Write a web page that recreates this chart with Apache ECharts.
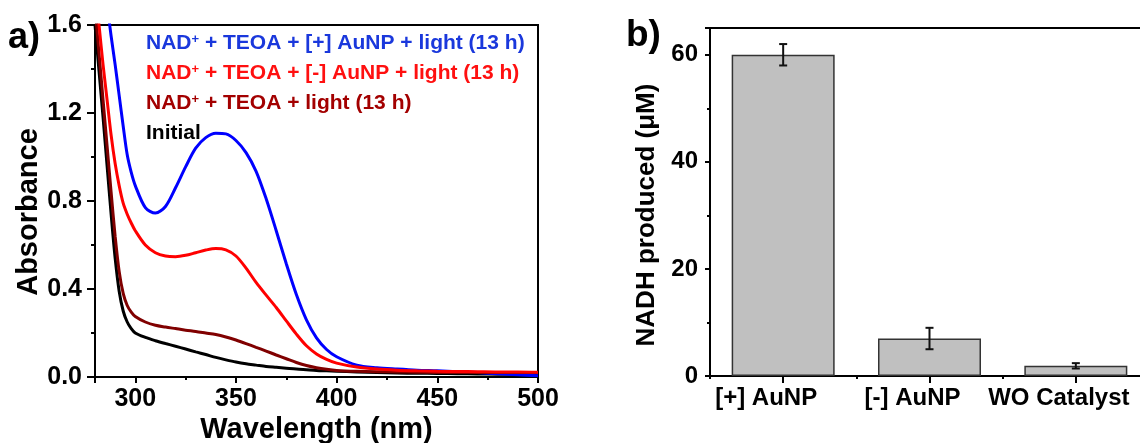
<!DOCTYPE html>
<html>
<head>
<meta charset="utf-8">
<script src="https://cdn.jsdelivr.net/npm/echarts@6/dist/echarts.min.js"></script>
<style>
  html, body { margin: 0; padding: 0; background: #fff; }
  #chart { width: 1140px; height: 443px; }
</style>
</head>
<body>
<div id="chart"></div>
<script>
// a) UV-vis spectra: wavelength grid (nm) and absorbance of each sample
const wavelength = [280, 282, 284, 286, 288, 290, 292, 294, 296, 298, 300, 305, 310, 315, 320, 325, 330, 335, 340, 345, 350, 355, 360, 365, 370, 375, 380, 385, 390, 395, 400, 410, 420, 430, 440, 450, 460, 470, 480, 490, 500];
const absPlusAuNP = [2.45, 2.15, 1.88, 1.70, 1.55, 1.42, 1.28, 1.14, 1.01, 0.93, 0.87, 0.77, 0.745, 0.775, 0.86, 0.955, 1.04, 1.088, 1.108, 1.105, 1.075, 1.02, 0.935, 0.81, 0.665, 0.515, 0.375, 0.26, 0.178, 0.125, 0.092, 0.054, 0.042, 0.036, 0.031, 0.028, 0.024, 0.020, 0.015, 0.010, 0.006];
const absMinusAuNP = [1.78, 1.60, 1.42, 1.26, 1.10, 0.97, 0.87, 0.79, 0.74, 0.70, 0.665, 0.60, 0.565, 0.55, 0.547, 0.553, 0.565, 0.577, 0.584, 0.578, 0.55, 0.495, 0.43, 0.372, 0.316, 0.255, 0.195, 0.142, 0.105, 0.08, 0.063, 0.045, 0.036, 0.031, 0.028, 0.026, 0.025, 0.024, 0.023, 0.023, 0.022];
const absNoCatalyst = [1.68, 1.47, 1.26, 1.05, 0.84, 0.64, 0.48, 0.38, 0.325, 0.295, 0.275, 0.25, 0.235, 0.227, 0.22, 0.213, 0.207, 0.20, 0.193, 0.182, 0.168, 0.152, 0.135, 0.118, 0.10, 0.083, 0.066, 0.052, 0.042, 0.035, 0.030, 0.026, 0.024, 0.023, 0.022, 0.021, 0.021, 0.020, 0.020, 0.020, 0.020];
const absInitial = [1.60, 1.39, 1.18, 0.96, 0.74, 0.54, 0.39, 0.30, 0.25, 0.22, 0.20, 0.18, 0.165, 0.152, 0.14, 0.127, 0.114, 0.102, 0.089, 0.078, 0.068, 0.060, 0.054, 0.048, 0.044, 0.040, 0.036, 0.033, 0.030, 0.028, 0.026, 0.023, 0.020, 0.018, 0.017, 0.016, 0.015, 0.014, 0.013, 0.012, 0.012];
const spectrumNames = [
  'NAD⁺ + TEOA + [+] AuNP + light (13 h)',
  'NAD⁺ + TEOA + [-] AuNP + light (13 h)',
  'NAD⁺ + TEOA + light (13 h)',
  'Initial'
];

// b) NADH produced per catalyst (µM) with error bars
const catalysts = ['[+] AuNP', '[-] AuNP', 'WO Catalyst'];
const nadhMean = [60, 7, 1.9];
const nadhError = [2.0, 2.0, 0.5];

const FONT = '"Liberation Sans", Arial, sans-serif';
const lineColors = ['#0000ff', '#ff0000', '#800000', '#000000'];
const textColors = ['#1a38dc', '#ff1010', '#a30000', '#000000'];
const absSets = [absPlusAuNP, absMinusAuNP, absNoCatalyst, absInitial];

const pairs = arr => wavelength.map((w, i) => [w, arr[i]]);

// draw order: black first, red last on top
const drawOrder = [3, 0, 2, 1];
const spectrumSeries = drawOrder.map(k => ({
  name: spectrumNames[k],
  type: 'line',
  xAxisIndex: 0,
  yAxisIndex: 0,
  data: pairs(absSets[k]),
  smooth: 0.3,
  showSymbol: false,
  symbol: 'none',
  clip: true,
  lineStyle: { color: lineColors[k], width: 3 },
  itemStyle: { color: lineColors[k] },
  silent: true
}));

const errorData = catalysts.map((c, i) => [i, nadhMean[i] - nadhError[i], nadhMean[i] + nadhError[i]]);

const axisLine = { show: true, lineStyle: { color: '#000', width: 2 } };
const tickStyle = { color: '#000', width: 2 };
const labelStyle = (size) => ({ color: '#000', fontFamily: FONT, fontWeight: 'bold', fontSize: size });

const chart = echarts.init(document.getElementById('chart'), null, { renderer: 'canvas' });
chart.setOption({
  animation: false,
  backgroundColor: '#fff',
  textStyle: { fontFamily: FONT },
  title: [
    { text: 'a)', left: 8, top: 20, padding: 0, textStyle: { fontFamily: FONT, fontWeight: 'bold', fontSize: 36, color: '#000' } },
    { text: 'b)', left: 626, top: 17, padding: 0, textStyle: { fontFamily: FONT, fontWeight: 'bold', fontSize: 37, color: '#000' } }
  ],
  legend: {
    orient: 'vertical',
    left: 135,
    top: 28,
    itemWidth: 0,
    itemHeight: 0,
    itemGap: 9,
    selectedMode: false,
    itemStyle: { opacity: 0 },
    lineStyle: { opacity: 0 },
    data: spectrumNames.map((n, k) => ({ name: n, textStyle: { color: textColors[k] } })),
    formatter: n => n.replace('NAD⁺', 'NAD{sup|+}'),
    textStyle: {
      fontFamily: FONT, fontWeight: 'bold', fontSize: 21, lineHeight: 21,
      rich: { sup: { fontFamily: FONT, fontWeight: 'bold', fontSize: 13, verticalAlign: 'top', lineHeight: 21 } }
    }
  },
  grid: [
    { left: 95, right: 602, top: 25, bottom: 66, outerBoundsMode: 'none', show: true, borderColor: '#000', borderWidth: 2, backgroundColor: 'transparent' },
    { left: 710, right: -9, top: 28, bottom: 67, outerBoundsMode: 'none', show: true, borderColor: '#000', borderWidth: 2, backgroundColor: 'transparent' }
  ],
  xAxis: [
    {
      gridIndex: 0, type: 'value', min: 280, max: 500, position: 'bottom',
      name: 'Wavelength (nm)', nameLocation: 'middle', nameGap: 38, nameMoveOverlap: false,
      nameTextStyle: labelStyle(29),
      axisLine,
      axisTick: { show: true, length: 6, lineStyle: tickStyle },
      minorTick: { show: true, splitNumber: 2, length: 3, lineStyle: tickStyle },
      splitLine: { show: false },
      axisLabel: Object.assign(labelStyle(25), { margin: 10, showMinLabel: false })
    },
    {
      gridIndex: 1, type: 'category', data: catalysts, position: 'bottom',
      axisLine,
      axisTick: { show: true, alignWithLabel: true, length: 7, lineStyle: tickStyle },
      splitLine: { show: false },
      axisLabel: Object.assign(labelStyle(24), { margin: 10, interval: 0, padding: [0, 34, 0, 0] })
    },
    {
      gridIndex: 1, type: 'category', data: catalysts, position: 'bottom',
      axisLine: { show: false },
      axisTick: { show: true, length: 3, lineStyle: tickStyle },
      splitLine: { show: false },
      axisLabel: { show: false }
    }
  ],
  yAxis: [
    {
      gridIndex: 0, type: 'value', min: 0, max: 1.6, interval: 0.4,
      name: 'Absorbance', nameLocation: 'middle', nameGap: 50, nameRotate: 90,
      nameTextStyle: Object.assign(labelStyle(29), { padding: [0, 22, 0, 0] }),
      axisLine,
      axisTick: { show: true, length: 8, lineStyle: tickStyle },
      minorTick: { show: true, splitNumber: 2, length: 4, lineStyle: tickStyle },
      splitLine: { show: false },
      axisLabel: Object.assign(labelStyle(25), { margin: 13, formatter: v => v.toFixed(1) })
    },
    {
      gridIndex: 1, type: 'value', min: 0, max: 65, interval: 20,
      name: 'NADH produced (μM)', nameLocation: 'middle', nameGap: 50, nameRotate: 90,
      nameTextStyle: Object.assign(labelStyle(26), { padding: [0, 26, 0, 0] }),
      axisLine,
      axisTick: { show: true, length: 5, lineStyle: tickStyle },
      minorTick: { show: true, splitNumber: 2, length: 3, lineStyle: tickStyle },
      splitLine: { show: false },
      axisLabel: Object.assign(labelStyle(24), { margin: 12, showMaxLabel: false })
    }
  ],
  series: spectrumSeries.concat([
    {
      name: 'NADH',
      type: 'bar',
      xAxisIndex: 1,
      yAxisIndex: 1,
      data: nadhMean,
      barWidth: 103,
      itemStyle: { color: '#c0c0c0', borderColor: '#333', borderWidth: 1.5 },
      silent: true
    },
    {
      name: 'NADH error',
      type: 'custom',
      xAxisIndex: 1,
      yAxisIndex: 1,
      data: errorData,
      encode: { x: 0, y: [1, 2] },
      silent: true,
      z: 5,
      renderItem: (params, api) => {
        const idx = api.value(0);
        const lo = api.coord([idx, api.value(1)]);
        const hi = api.coord([idx, api.value(2)]);
        const half = 4;
        const style = { stroke: '#111', lineWidth: 2 };
        return {
          type: 'group',
          children: [
            { type: 'line', shape: { x1: lo[0], y1: lo[1], x2: hi[0], y2: hi[1] }, style },
            { type: 'line', shape: { x1: lo[0] - half, y1: lo[1], x2: lo[0] + half, y2: lo[1] }, style },
            { type: 'line', shape: { x1: hi[0] - half, y1: hi[1], x2: hi[0] + half, y2: hi[1] }, style }
          ]
        };
      }
    }
  ])
});
</script>
</body>
</html>
